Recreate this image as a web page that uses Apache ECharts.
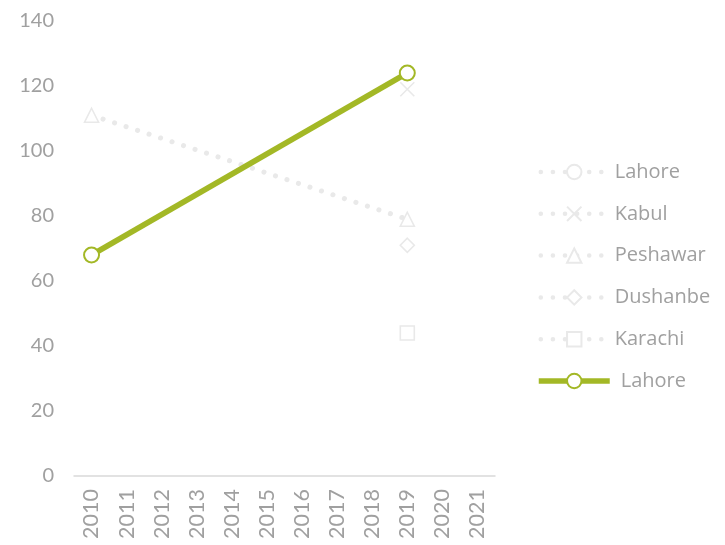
<!DOCTYPE html>
<html>
<head>
<meta charset="utf-8">
<script src="https://cdn.jsdelivr.net/npm/echarts@6/dist/echarts.min.js"></script>
<style>
  html, body { margin: 0; padding: 0; background: #fff; }
  #chart { width: 725px; height: 545px; }
</style>
</head>
<body>
<div id="chart"></div>
<script>
// Years along the x axis
const years = ['2010', '2011', '2012', '2013', '2014', '2015', '2016', '2017', '2018', '2019', '2020', '2021'];

// City values per year (null = no observation)
const lahore   = [68, null, null, null, null, null, null, null, null, 124, null, null];
const kabul    = [null, null, null, null, null, null, null, null, null, 119, null, null];
const peshawar = [111, null, null, null, null, null, null, null, null, 79, null, null];
const dushanbe = [null, null, null, null, null, null, null, null, null, 71, null, null];
const karachi  = [null, null, null, null, null, null, null, null, null, 44, null, null];

const yTicks = { min: 0, max: 140, interval: 20 };

const GHOST = '#e9e9e9';
const GREEN = '#a3b826';
const TEXT = '#a0a0a0';
const FONT = 'Lato';
const LEGEND_FONT = 'Open Sans';

const crossPath = 'path://M0,0L10,10M10,0L0,10';
const dotted = { color: GHOST, width: 5, type: [0.1, 12], cap: 'round' };

function ghost(name, data, symbol) {
  return {
    name: name,
    type: 'line',
    data: data,
    connectNulls: true,
    symbol: symbol,
    symbolSize: 14,
    lineStyle: dotted,
    itemStyle: { color: '#fff', borderColor: GHOST, borderWidth: 1.6 },
    emphasis: { disabled: true },
    z: 2
  };
}

function ghostLegend(name) {
  return {
    name: name,
    lineStyle: { color: GHOST, width: 4.5, type: [0.1, 12], dashOffset: -2, cap: 'round' }
  };
}

const chart = echarts.init(document.getElementById('chart'), null, { renderer: 'canvas' });

chart.setOption({
  animation: false,
  backgroundColor: '#fff',
  textStyle: { fontFamily: FONT },
  grid: { left: 74, right: 230, top: 21, bottom: 69 },
  legend: {
    orient: 'vertical',
    left: 531,
    top: 157,
    itemWidth: 71,
    itemHeight: 18,
    itemGap: 21.8,
    formatter: function (n) { return n.trim(); },
    textStyle: { color: TEXT, fontSize: 20, fontFamily: LEGEND_FONT },
    data: [
      ghostLegend('Lahore'),
      ghostLegend('Kabul'),
      ghostLegend('Peshawar'),
      ghostLegend('Dushanbe'),
      ghostLegend('Karachi'),
      { name: 'Lahore ', lineStyle: { color: GREEN, width: 5.5 }, textStyle: { padding: [0, 0, 0, 6] } }
    ]
  },
  xAxis: {
    type: 'category',
    data: years,
    boundaryGap: true,
    axisLine: { lineStyle: { color: '#d9d9d9', width: 1.5 } },
    axisTick: { show: false },
    axisLabel: { rotate: 90, color: TEXT, fontSize: 21.5, margin: 13, interval: 0, fontFamily: FONT }
  },
  yAxis: {
    type: 'value',
    min: yTicks.min,
    max: yTicks.max,
    interval: yTicks.interval,
    axisLine: { show: false },
    axisTick: { show: false },
    splitLine: { show: false },
    axisLabel: { color: TEXT, fontSize: 20, margin: 20, fontFamily: FONT }
  },
  series: [
    ghost('Lahore', lahore, 'circle'),
    ghost('Kabul', kabul, crossPath),
    ghost('Peshawar', peshawar, 'triangle'),
    ghost('Dushanbe', dushanbe, 'diamond'),
    ghost('Karachi', karachi, 'rect'),
    {
      name: 'Lahore ',
      type: 'line',
      data: lahore,
      connectNulls: true,
      symbol: 'circle',
      symbolSize: 15,
      lineStyle: { color: GREEN, width: 5.5 },
      itemStyle: { color: '#fff', borderColor: GREEN, borderWidth: 2 },
      emphasis: { disabled: true },
      z: 5
    }
  ]
});
</script>
</body>
</html>
